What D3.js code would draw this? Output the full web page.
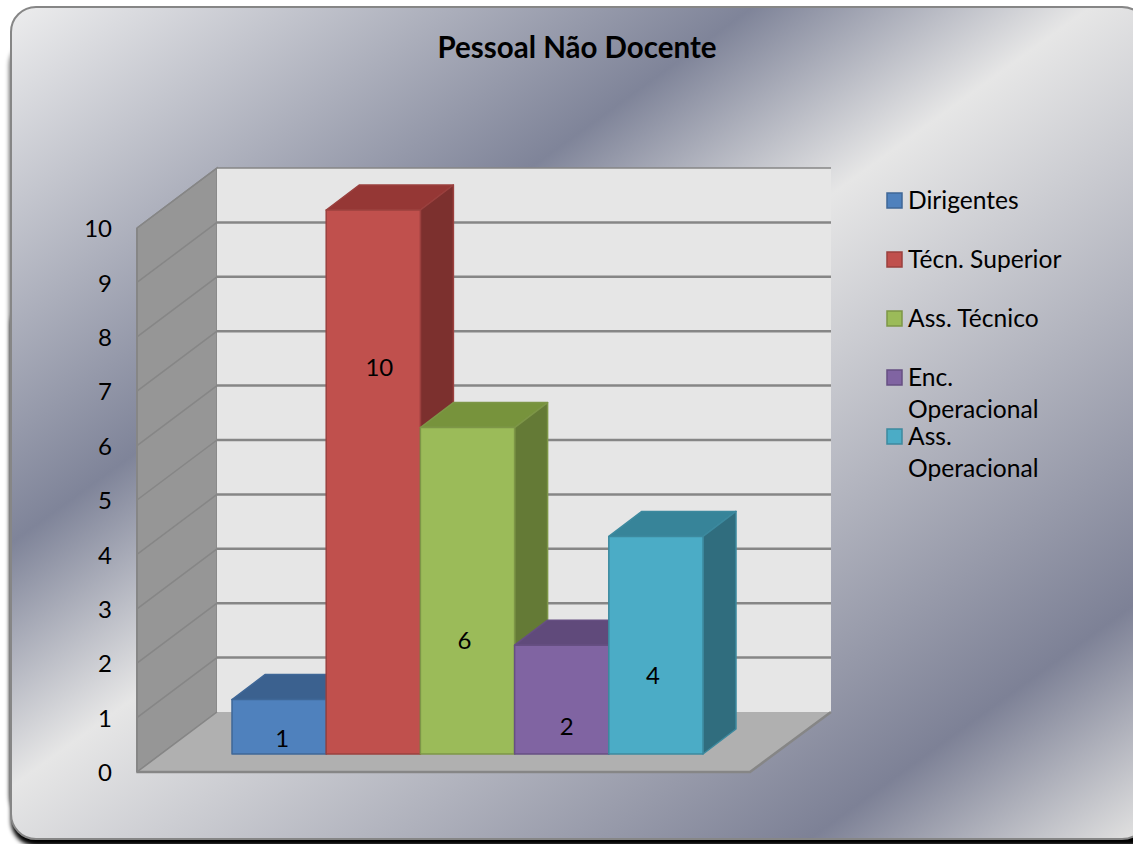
<!DOCTYPE html>
<html>
<head>
<meta charset="utf-8">
<script src="https://cdn.jsdelivr.net/npm/d3@7"></script>
<style>
  html, body { margin: 0; padding: 0; background: #fff; overflow: hidden; }
  svg { display: block; }
  text { font-family: Lato, "Open Sans", sans-serif; fill: #000; }
</style>
</head>
<body>
<script>
const categories = ['Dirigentes', 'Técn. Superior', 'Ass. Técnico', 'Enc. Operacional', 'Ass. Operacional'];
const values = [1, 10, 6, 2, 4];
const yTicks = [0, 1, 2, 3, 4, 5, 6, 7, 8, 9, 10];
const title = 'Pessoal Não Docente';

const frontColors = ['#4f81bd', '#c0504d', '#9bbb59', '#8064a2', '#4bacc6'];
const topColors = ['#3b618f', '#953735', '#77933c', '#604a7b', '#378499'];
const sideColors = ['#345680', '#7c302e', '#647a36', '#54406c', '#306d7e'];
const edgeColors = ['#3f6797', '#9a403e', '#7d9647', '#664f82', '#3c899e'];

const width = 1133, height = 844;

const svg = d3.select('body').append('svg')
  .attr('width', width)
  .attr('height', height);

// background gradient runs diagonally, a couple of silver bands
const defs = svg.append('defs');
const bgStops = [
  [0, '#f0f0f0'], [447, '#7f8499'], [645, '#e6e6e6'], [1155, '#7d8196'], [1340, '#dedede']
];
const grad = defs.append('linearGradient')
  .attr('id', 'silver')
  .attr('gradientUnits', 'userSpaceOnUse')
  .attr('x1', 0).attr('y1', 0)
  .attr('x2', 0.585 * 1340).attr('y2', 0.81 * 1340);
bgStops.forEach(s => {
  grad.append('stop').attr('offset', s[0] / 1340).attr('stop-color', s[1]);
});

const blur = defs.append('filter')
  .attr('id', 'soft')
  .attr('x', '-5%').attr('y', '-5%').attr('width', '110%').attr('height', '110%');
blur.append('feGaussianBlur').attr('stdDeviation', 2);

// soft shadow down the left edge, hard black along the bottom
svg.append('rect')
  .attr('x', 9).attr('y', 40).attr('width', 1145).attr('height', 780)
  .attr('rx', 25).attr('fill', '#000').attr('fill-opacity', 0.55)
  .attr('filter', 'url(#soft)');
svg.append('rect')
  .attr('x', 11).attr('y', 300).attr('width', 1145).attr('height', 546)
  .attr('rx', 25).attr('fill', '#000')
  .attr('filter', 'url(#soft)');
// the panel, right side runs off the page
svg.append('rect')
  .attr('x', 11).attr('y', 7).attr('width', 1136).attr('height', 832)
  .attr('rx', 25)
  .attr('fill', 'url(#silver)')
  .attr('stroke', '#868686')
  .attr('stroke-width', 2);

svg.append('text')
  .attr('x', 577).attr('y', 58)
  .attr('text-anchor', 'middle')
  .style('font-size', '29.5px')
  .style('font-weight', 700)
  .text(title);

// scales for the 3d box
const y = d3.scaleLinear().domain([0, 10]).range([772, 228]);
const left = 137, floorRight = 750;
const depthX = 80, depthY = -60;
const barDx = 33, barDy = -25, barBaseDrop = 18;

const x = d3.scaleBand().domain(categories).range([232, 703]);

const poly = pts => pts.map(p => p.join(',')).join(' ');

// side wall
svg.append('polygon')
  .attr('points', poly([[left, y(0)], [left, y(10)], [left + depthX, y(10) + depthY], [left + depthX, y(0) + depthY]]))
  .attr('fill', '#969696')
  .attr('stroke', '#868686')
  .attr('stroke-width', 1.5);

// back wall
svg.append('rect')
  .attr('x', left + depthX)
  .attr('y', y(10) + depthY)
  .attr('width', floorRight + depthX + 1 - (left + depthX))
  .attr('height', y(0) - y(10))
  .attr('fill', '#e6e6e6');

// floor
svg.append('polygon')
  .attr('points', poly([[left, y(0)], [floorRight, y(0)], [floorRight + depthX + 1, y(0) + depthY], [left + depthX, y(0) + depthY]]))
  .attr('fill', '#b0b0b0');
svg.append('polyline')
  .attr('points', poly([[left, y(0)], [floorRight, y(0)], [floorRight + depthX + 1, y(0) + depthY]]))
  .attr('fill', 'none')
  .attr('stroke', '#868686')
  .attr('stroke-width', 2.5);

// grid lines, side wall and back wall
const grid = svg.append('g').attr('stroke', '#868686').attr('fill', 'none');
yTicks.forEach(t => {
  grid.append('line')
    .attr('x1', left).attr('y1', y(t))
    .attr('x2', left + depthX).attr('y2', y(t) + depthY)
    .attr('stroke-width', 1.5);
  if (t > 0) {
    grid.append('line')
      .attr('x1', left + depthX).attr('y1', y(t) + depthY)
      .attr('x2', floorRight + depthX + 1).attr('y2', y(t) + depthY)
      .attr('stroke-width', t === 10 ? 1.5 : 2.5);
  }
});
grid.append('line')
  .attr('x1', left).attr('y1', y(10)).attr('x2', left).attr('y2', y(0))
  .attr('stroke-width', 2);

// y axis labels only
const axis = svg.append('g')
  .attr('transform', 'translate(118,1)')
  .call(d3.axisLeft(y).tickValues(yTicks).tickSize(0).tickPadding(6));
axis.select('.domain').remove();
axis.selectAll('text')
  .style('font-size', '24px')
  .style('font-family', 'Lato, sans-serif')
  .attr('fill', '#000');

// bars
const barW = x.bandwidth();
const barY = v => y(v) - barBaseDrop;
const bars = svg.selectAll('g.bar')
  .data(categories)
  .enter()
  .append('g')
  .attr('class', 'bar')
  .attr('stroke-width', 1.5)
  .attr('stroke-linejoin', 'round');

bars.append('polygon')
  .attr('points', (d, i) => {
    const x0 = x(d), t = barY(values[i]);
    return poly([[x0, t], [x0 + barW, t], [x0 + barW + barDx, t + barDy], [x0 + barDx, t + barDy]]);
  })
  .attr('fill', (d, i) => topColors[i])
  .attr('stroke', (d, i) => edgeColors[i]);

bars.append('polygon')
  .attr('points', (d, i) => {
    const x1 = x(d) + barW, t = barY(values[i]), b = barY(0);
    return poly([[x1, t], [x1 + barDx, t + barDy], [x1 + barDx, b + barDy], [x1, b]]);
  })
  .attr('fill', (d, i) => sideColors[i])
  .attr('stroke', (d, i) => edgeColors[i]);

bars.append('rect')
  .attr('x', d => x(d))
  .attr('y', (d, i) => barY(values[i]))
  .attr('width', barW)
  .attr('height', (d, i) => barY(0) - barY(values[i]))
  .attr('fill', (d, i) => frontColors[i])
  .attr('stroke', (d, i) => edgeColors[i]);

// data labels sit oddly in the original, nudged per bar
const labelNudgeX = [3, 6, -3, 5, -3];
const labelCenterY = [739, 368, 641, 727, 676];
svg.selectAll('text.value')
  .data(values)
  .enter()
  .append('text')
  .attr('class', 'value')
  .attr('x', (d, i) => x(categories[i]) + barW / 2 + labelNudgeX[i])
  .attr('y', (d, i) => labelCenterY[i])
  .attr('dy', '0.35em')
  .attr('text-anchor', 'middle')
  .style('font-size', '24px')
  .text(d => d);

// legend, names wrap on two lines when they contain "Operacional"
const legend = svg.selectAll('g.legend')
  .data(categories)
  .enter()
  .append('g')
  .attr('class', 'legend')
  .attr('transform', (d, i) => 'translate(886,' + (200 + i * 59) + ')');

legend.append('rect')
  .attr('x', 1).attr('y', -7)
  .attr('width', 15).attr('height', 15)
  .attr('fill', (d, i) => frontColors[i])
  .attr('stroke', (d, i) => edgeColors[i])
  .attr('stroke-width', 1.5);

legend.each(function (d) {
  const words = /Operacional/.test(d) ? [d.split(' ')[0], 'Operacional'] : [d];
  d3.select(this).selectAll('text')
    .data(words)
    .enter()
    .append('text')
    .attr('x', 22)
    .attr('y', (w, j) => j * 32)
    .attr('dy', '0.35em')
    .style('font-size', '24.6px')
    .text(w => w);
});
</script>
</body>
</html>
